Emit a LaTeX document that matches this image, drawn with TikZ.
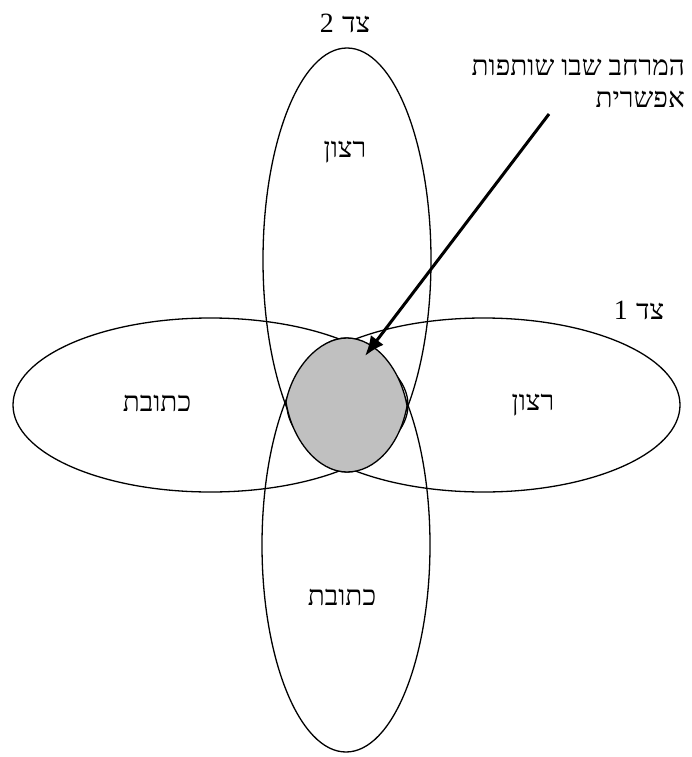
\documentclass[tikz,border=0pt]{standalone}
\usepackage{fontspec}
\TeXXeTstate=1
\newfontfamily\hebfont[Script=Hebrew]{Liberation Serif}
\usetikzlibrary{arrows.meta}
\definecolor{blobgray}{RGB}{192,192,192}
\tikzset{
  lbl/.style={inner sep=0pt, font=\hebfont\fontsize{28}{32}\selectfont},
  oval/.style={line width=1.3bp, draw=black},
  blob/.style={line width=1.3bp, draw=black, fill=blobgray},
  pointer/.style={line width=3bp, -{Latex[length=20bp,width=16bp]}}
}
\begin{document}
\begin{tikzpicture}[x=1bp,y=-1bp]
\useasboundingbox (0,0) rectangle (692,757);
% ovals
\draw[oval] (347,260) ellipse [x radius=84, y radius=212];
\draw[oval] (346,545) ellipse [x radius=84, y radius=207];
\draw[oval] (210.5,405) ellipse [x radius=197.5, y radius=87];
\draw[oval] (483.5,405) ellipse [x radius=196.5, y radius=87];
% shaded common region
\draw[blob] (347,338) .. controls (376,338) and (401,370) .. (407,406)
  .. controls (400,445) and (375,472) .. (347,472)
  .. controls (318,472) and (292,440) .. (286,402)
  .. controls (292,370) and (318,338) .. (347,338) -- cycle;
% labels
\node[lbl] (side2) at (345,23) {\hbox{2}\hspace{0.3em}\hbox{\beginR צד\endR}};
\node[lbl] (side1) at (639,310) {\hbox{1}\hspace{0.3em}\hbox{\beginR צד\endR}};
\node[lbl] (wantU) at (345,152) {\beginR רצון\endR};
\node[lbl] (addrL) at (157,403) {\beginR כתובת\endR};
\node[lbl] (wantR) at (533,405) {\beginR רצון\endR};
\node[lbl] (addrD) at (342,597) {\beginR כתובת\endR};
\node[lbl, anchor=north east, align=right] (space) at (685,59)
  {\beginR המרחב שבו שותפות\endR\\\beginR אפשרית\endR};
% arrow
\coordinate (arrowStart) at (549,114);
\coordinate (arrowTip) at (365,356);
\draw[pointer] (arrowStart) -- (arrowTip);
\end{tikzpicture}
\end{document}
